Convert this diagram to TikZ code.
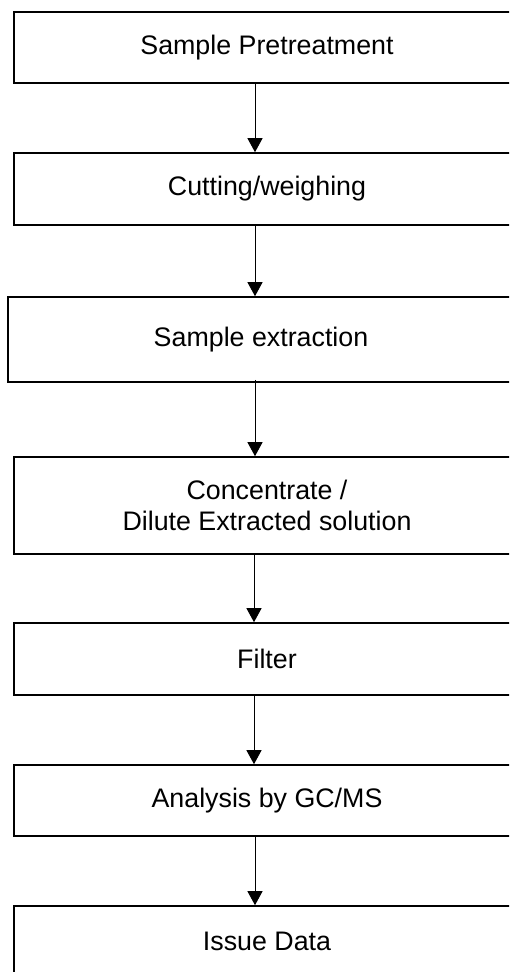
\documentclass[tikz,border=0pt]{standalone}
\usepackage{fontspec}
\setmainfont{Liberation Sans}
\usetikzlibrary{arrows.meta}
\begin{document}
\begin{tikzpicture}[x=1pt,y=-1pt,
  box/.style={draw=black,line width=1.6pt,rectangle,inner sep=0pt,minimum width=506pt,
    font=\fontsize{26.8}{31}\selectfont,align=center},
  arr/.style={line width=1pt,-{Triangle[width=15pt,length=14pt]}}]
\clip (0,0) rectangle (509,972);
\fill[white] (0,0) rectangle (509,972);
\node[box,minimum height=71pt] (b1) at (267,47.5) {Sample Pretreatment};
\node[box,minimum height=72pt] (b2) at (267,189) {Cutting/weighing};
\node[box,minimum height=85pt,minimum width=506pt] (b3) at (261,339.5) {Sample extraction};
\node[box,minimum height=97pt] (b4) at (267,505.5) {Concentrate /\\ Dilute Extracted solution};
\node[box,minimum height=72pt] (b5) at (267,659) {Filter};
\node[box,minimum height=71pt] (b6) at (267,800.5) {Analysis by GC/MS};
\node[box,minimum height=71pt] (b7) at (267,941.5) {Issue Data};
\coordinate (ax) at (255,0);
\coordinate (bx) at (254,0);
\draw[arr] (b1.south -| ax) -- (b2.north -| ax);
\draw[arr] (b2.south -| ax) -- (b3.north -| ax);
\draw[arr] ([yshift=3pt]b3.south -| ax) -- (b4.north -| ax);
\draw[arr] (b4.south -| bx) -- (b5.north -| bx);
\draw[arr] (b5.south -| bx) -- (b6.north -| bx);
\draw[arr] (b6.south -| ax) -- (b7.north -| ax);
\end{tikzpicture}
\end{document}
